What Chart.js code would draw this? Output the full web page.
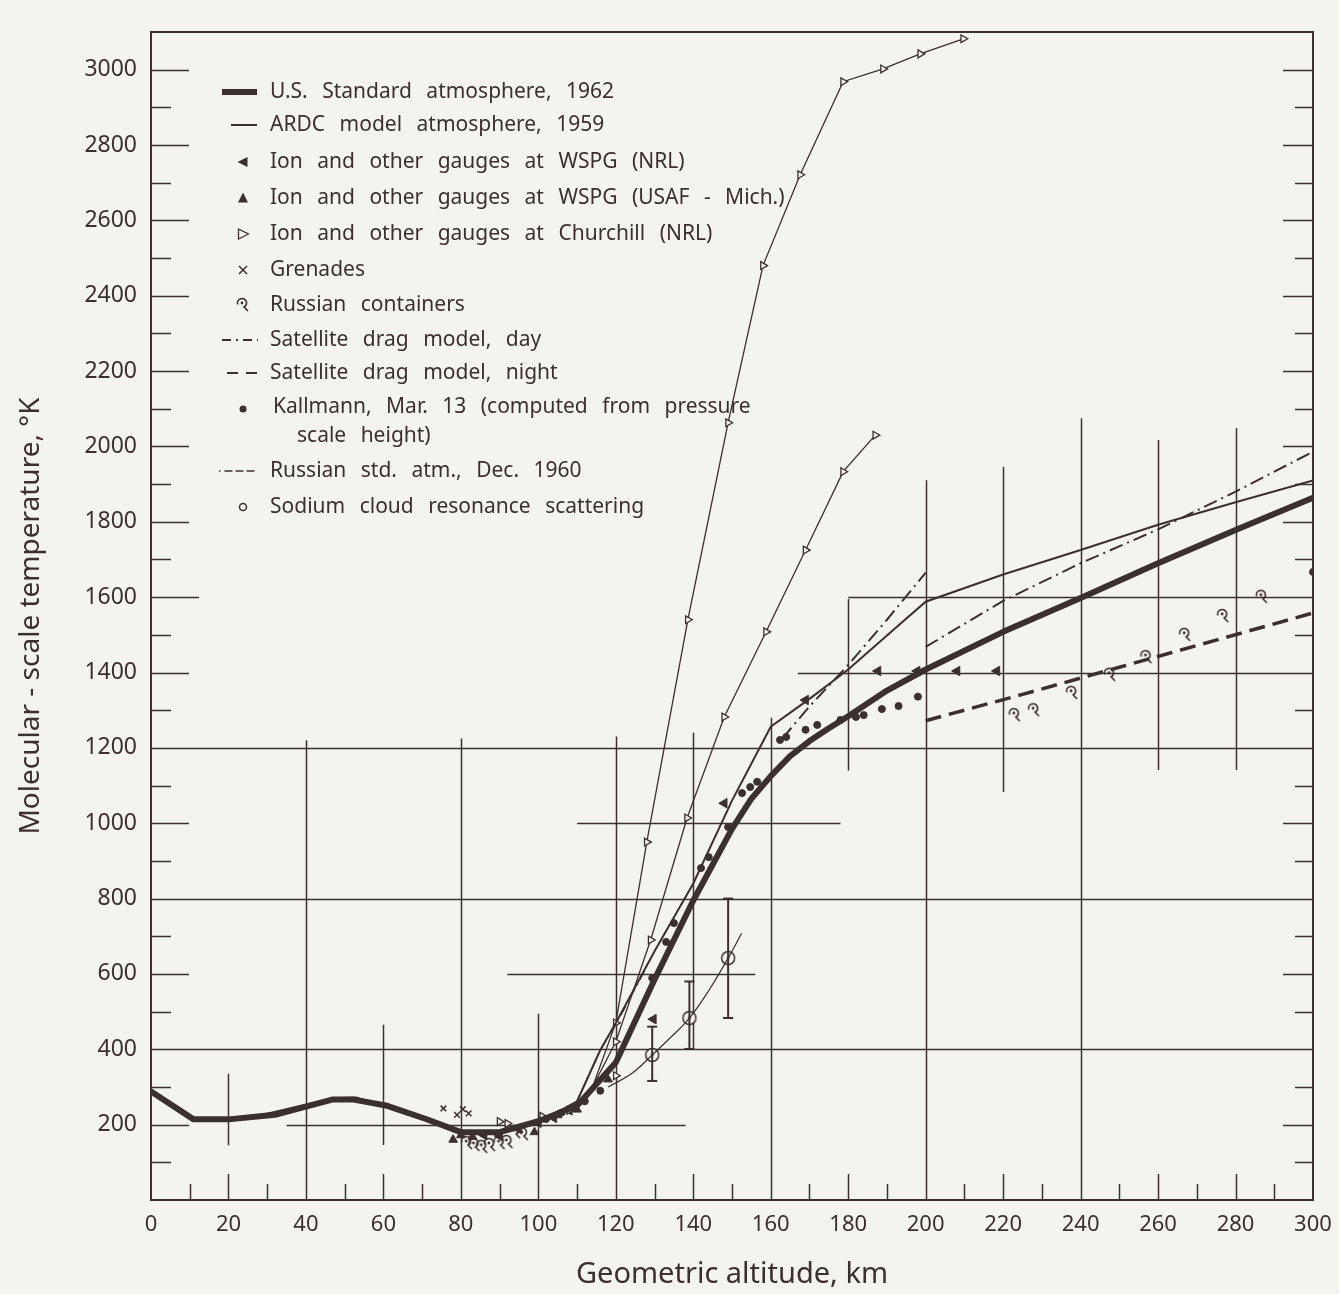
<!DOCTYPE html>
<html>
<head>
<meta charset="utf-8">
<script src="https://cdn.jsdelivr.net/npm/chart.js@4.4.1/dist/chart.umd.min.js"></script>
<style>
  html, body { margin: 0; padding: 0; background: #f4f4ef; }
  #wrap { width: 1339px; height: 1294px; }
</style>
</head>
<body>
<div id="wrap"><canvas id="chart" width="1339" height="1294"></canvas></div>
<script>
const BG = "#f4f4ef";
const INK = "#3a302e";
const FONT = "'Noto Sans', 'DejaVu Sans', sans-serif";

// [altitude km, molecular-scale temperature K]
const usStd1962 = [[0,288],[11,214],[20,214],[32,226],[47,267],[52,267],[61,250],[71,215],[80,180],[90,180],[100,209],[110,250],[120,365],[130,585],[140,795],[150,985],[155,1065],[160,1125],[165,1178],[170,1218],[175,1252],[180,1284],[190,1352],[200,1408],[220,1508],[240,1598],[260,1690],[280,1778],[300,1864]];
const ardc1959 = [[0,288],[11,217],[25,217],[47,270],[53,272],[75,198],[82,176],[90,176],[100,206],[110,262],[116,398],[120,470],[130,660],[140,840],[150,1060],[160,1256],[170,1330],[180,1408],[190,1498],[200,1588],[220,1660],[240,1725],[260,1792],[280,1852],[300,1910]];
const satDayLow = [[163,1225],[170,1310],[180,1420],[190,1540],[200,1665]];
const satDayHigh = [[200,1468],[220,1590],[240,1690],[260,1780],[280,1880],[300,1986]];
const satNight = [[200,1272],[225,1342],[250,1414],[275,1486],[300,1558]];
const russianStd1960 = [[105,228],[110,262],[116,398],[122,504],[128,620]];
const churchillA = [[114,300],[120,470],[128,950],[138.6,1540],[149,2063],[158,2480],[167.6,2721],[178.7,2968],[189,3002],[198.6,3042],[209.7,3082]];
const churchillB = [[114,300],[120,420],[129,690],[138.4,1014],[148,1282],[158.8,1508],[169,1725],[178.7,1933],[187,2030]];
const churchillLow = [[90,208],[92,203],[101,222],[108,238],[120,330]];
const wspgNrl = [[86,172],[90,170],[95,188],[100,205],[104,218],[108,238],[129.7,480],[148,1053],[169,1327],[187.7,1404],[197.8,1404],[208.1,1404],[218.4,1404]];
const wspgUsaf = [[78,160],[80,172],[83,168],[99,180],[105,225],[110,240],[118,320]];
const grenades = [[75.5,243],[80.5,241],[79,226],[82,230]];
const russianContainers = [[81.6,151],[83.5,146],[85.5,141],[87.5,146],[90,151],[92,154],[94,180],[96,175],[223,1287],[228,1300],[237.8,1346],[247.6,1394],[257,1441],[267,1500],[276.8,1550],[286.8,1601]];
const kallmann = [[102,215],[106,232],[112,262],[116,290],[129.4,589],[133,685],[135,735],[142,881],[144,910],[149,990],[152.6,1080],[154.7,1096],[156.5,1110],[162.4,1221],[164,1229],[169,1248],[172,1261],[178,1274],[182,1282],[184,1287],[188.7,1303],[193,1311],[198,1336],[300,1667]];
const sodium = [[129.4,385],[139,483],[149,642]];
const sodiumCurve = [[118,300],[124,335],[129.4,385],[134,430],[139,483],[144,556],[149,642],[152.5,708]];
const sodiumRange = [[129.4,316,460],[139,401,580],[149,483,800]];

// partial grid: [K, fromKm, toKm] and [km, fromK, toK]
const hGrid = [[200,35,138],[400,0,300],[600,92,156],[800,0,300],[1000,110,178],[1200,0,300],[1400,167,300],[1600,180,300]];
const vGrid = [[20,145,335],[40,0,1220],[60,146,465],[80,0,1225],[100,0,494],[120,0,1230],[140,400,1240],[160,0,1280],[180,1140,1595],[200,0,1910],[220,1083,1946],[240,0,2075],[260,1141,2017],[280,1141,2049]];

const legendLabels = [
  "U.S. Standard atmosphere, 1962",
  "ARDC model atmosphere, 1959",
  "Ion and other gauges at WSPG (NRL)",
  "Ion and other gauges at WSPG (USAF - Mich.)",
  "Ion and other gauges at Churchill (NRL)",
  "Grenades",
  "Russian containers",
  "Satellite drag model, day",
  "Satellite drag model, night",
  "Kallmann, Mar. 13 (computed from pressure",
  "Russian std. atm., Dec. 1960",
  "Sodium cloud resonance scattering",
];

const pts = (a) => a.map((p) => ({ x: p[0], y: p[1] }));

function hookSymbol() {
  const c = document.createElement("canvas");
  c.width = 18; c.height = 18;
  const g = c.getContext("2d");
  g.strokeStyle = INK; g.fillStyle = INK; g.lineWidth = 1.6;
  g.beginPath();
  g.arc(8, 7, 4.5, Math.PI * 0.9, Math.PI * 2.35);
  g.lineTo(14, 15);
  g.stroke();
  g.beginPath(); g.arc(8, 7, 1.4, 0, Math.PI * 2); g.fill();
  return c;
}
function ringSymbol() {
  const c = document.createElement("canvas");
  c.width = 18; c.height = 18;
  const g = c.getContext("2d");
  g.strokeStyle = INK; g.fillStyle = BG; g.lineWidth = 1.5;
  g.beginPath(); g.arc(9, 9, 6.5, 0, Math.PI * 2); g.fill(); g.stroke();
  g.fillStyle = INK;
  g.beginPath(); g.arc(9, 9, 1.4, 0, Math.PI * 2); g.fill();
  return c;
}
const HOOK = hookSymbol();
const RING = ringSymbol();

const datasets = [
  { label: "usStd", data: pts(usStd1962), showLine: true, borderColor: INK, borderWidth: 6, pointRadius: 0, borderCapStyle: "round", borderJoinStyle: "round" },
  { label: "ardc", data: pts(ardc1959), showLine: true, borderColor: INK, borderWidth: 2, pointRadius: 0 },
  { label: "satDay1", data: pts(satDayLow), showLine: true, borderColor: INK, borderWidth: 2, borderDash: [14, 5, 2, 5], pointRadius: 0 },
  { label: "satDay2", data: pts(satDayHigh), showLine: true, borderColor: INK, borderWidth: 2, borderDash: [14, 5, 2, 5], pointRadius: 0 },
  { label: "satNight", data: pts(satNight), showLine: true, borderColor: INK, borderWidth: 3.5, borderDash: [16, 8], pointRadius: 0 },
  { label: "russianStd", data: pts(russianStd1960), showLine: true, borderColor: INK, borderWidth: 1.5, borderDash: [10, 4, 2, 4], pointRadius: 0 },
  { label: "churchillA", data: pts(churchillA), showLine: true, borderColor: INK, borderWidth: 1.3, pointStyle: "triangle", rotation: 90, pointRadius: (c) => (c.dataIndex === 0 ? 0 : 4.5), pointBackgroundColor: BG, pointBorderColor: INK, pointBorderWidth: 1.3 },
  { label: "churchillB", data: pts(churchillB), showLine: true, borderColor: INK, borderWidth: 1.3, pointStyle: "triangle", rotation: 90, pointRadius: (c) => (c.dataIndex === 0 ? 0 : 4.5), pointBackgroundColor: BG, pointBorderColor: INK, pointBorderWidth: 1.3 },
  { label: "churchillLow", data: pts(churchillLow), showLine: false, pointStyle: "triangle", rotation: 90, pointRadius: 4.5, pointBackgroundColor: BG, pointBorderColor: INK, pointBorderWidth: 1.3 },
  { label: "sodiumCurve", data: pts(sodiumCurve), showLine: true, borderColor: INK, borderWidth: 1.2, pointRadius: 0, tension: 0.4 },
  ...sodiumRange.map((r) => ({ label: "sodiumRange", data: [{ x: r[0], y: r[1] }, { x: r[0], y: r[2] }], showLine: true, borderColor: INK, borderWidth: 2, pointStyle: "line", pointRadius: 5, pointBorderColor: INK, pointBorderWidth: 2 })),
  { label: "sodium", data: pts(sodium), showLine: false, pointStyle: RING, pointRadius: 7 },
  { label: "wspgNrl", data: pts(wspgNrl), showLine: false, pointStyle: "triangle", rotation: -90, pointRadius: 5.5, pointBackgroundColor: INK, pointBorderColor: INK, pointBorderWidth: 1 },
  { label: "wspgUsaf", data: pts(wspgUsaf), showLine: false, pointStyle: "triangle", pointRadius: 5, pointBackgroundColor: INK, pointBorderColor: INK, pointBorderWidth: 1 },
  { label: "grenades", data: pts(grenades), showLine: false, pointStyle: "crossRot", pointRadius: 4, pointBorderColor: INK, pointBorderWidth: 1.5 },
  { label: "russianContainers", data: pts(russianContainers), showLine: false, pointStyle: HOOK, pointRadius: 8 },
  { label: "kallmann", data: pts(kallmann), showLine: false, pointStyle: "circle", pointRadius: 3.5, pointBackgroundColor: INK, pointBorderColor: INK, pointBorderWidth: 1 },
];

const background = {
  id: "background",
  beforeDraw(chart) {
    const ctx = chart.ctx;
    ctx.save();
    ctx.fillStyle = BG;
    ctx.fillRect(0, 0, chart.width, chart.height);
    ctx.restore();
  },
};

const frame = {
  id: "frame",
  beforeDatasetsDraw(chart) {
    const { ctx, chartArea: a, scales: { x, y } } = chart;
    ctx.save();
    ctx.strokeStyle = INK;
    ctx.lineWidth = 1.5;
    ctx.beginPath();
    hGrid.forEach(([t, k0, k1]) => {
      const py = Math.round(y.getPixelForValue(t)) + 0.5;
      ctx.moveTo(x.getPixelForValue(k0), py);
      ctx.lineTo(x.getPixelForValue(k1), py);
    });
    vGrid.forEach(([k, t0, t1]) => {
      const px = Math.round(x.getPixelForValue(k)) + 0.5;
      ctx.moveTo(px, y.getPixelForValue(t0));
      ctx.lineTo(px, y.getPixelForValue(t1));
    });
    // inward ticks, left and right
    for (let t = 100; t <= 3000; t += 100) {
      const py = Math.round(y.getPixelForValue(t)) + 0.5;
      const major = t % 200 === 0;
      ctx.moveTo(a.left, py);
      ctx.lineTo(a.left + (t === 1600 ? 48 : major ? 38 : 20), py);
      ctx.moveTo(a.right, py);
      ctx.lineTo(a.right - (major ? 30 : 18), py);
    }
    // bottom ticks
    for (let k = 10; k < 300; k += 10) {
      const px = Math.round(x.getPixelForValue(k)) + 0.5;
      ctx.moveTo(px, a.bottom);
      ctx.lineTo(px, a.bottom - (k % 20 === 0 ? 26 : 16));
    }
    ctx.stroke();
    // frame
    ctx.lineWidth = 2;
    ctx.strokeRect(a.left, a.top, a.right - a.left, a.bottom - a.top);
    ctx.restore();
  },
};

const legendBox = {
  id: "legendBox",
  afterDraw(chart) {
    const ctx = chart.ctx;
    const rowY = [92, 125, 162, 198, 234, 270, 305, 340, 373, 407, 471, 507];
    const sx = 243, tx = 270;
    ctx.save();
    ctx.fillStyle = INK;
    ctx.strokeStyle = INK;
    ctx.font = "21px " + FONT;
    ctx.textBaseline = "middle";
    if ("wordSpacing" in ctx) ctx.wordSpacing = "9px";
    const line = (x0, x1, yy, w, dash) => {
      ctx.save();
      ctx.lineWidth = w;
      ctx.setLineDash(dash || []);
      ctx.beginPath(); ctx.moveTo(x0, yy); ctx.lineTo(x1, yy); ctx.stroke();
      ctx.restore();
    };
    const tri = (cx, cy, rot, fill) => {
      ctx.save();
      ctx.translate(cx, cy); ctx.rotate(rot);
      ctx.beginPath(); ctx.moveTo(0, -5.5); ctx.lineTo(5, 4.5); ctx.lineTo(-5, 4.5); ctx.closePath();
      ctx.lineWidth = 1.3;
      if (fill) { ctx.fill(); } else { ctx.fillStyle = BG; ctx.fill(); ctx.stroke(); }
      ctx.restore();
    };
    rowY.forEach((yy, i) => {
      switch (i) {
        case 0: line(222, 257, yy, 6); break;
        case 1: line(231, 257, yy, 2); break;
        case 2: tri(sx, yy, -Math.PI / 2, true); break;
        case 3: tri(sx, yy, 0, true); break;
        case 4: tri(sx, yy, Math.PI / 2, false); break;
        case 5:
          ctx.save(); ctx.lineWidth = 1.5; ctx.beginPath();
          ctx.moveTo(sx - 4, yy - 4); ctx.lineTo(sx + 4, yy + 4);
          ctx.moveTo(sx + 4, yy - 4); ctx.lineTo(sx - 4, yy + 4); ctx.stroke(); ctx.restore();
          break;
        case 6: ctx.drawImage(HOOK, sx - 9, yy - 9); break;
        case 7: line(222, 258, yy, 2, [9, 5, 2, 5]); break;
        case 8: line(227, 258, yy, 2, [11, 8]); break;
        case 9: ctx.beginPath(); ctx.arc(sx, yy + 2, 3.5, 0, Math.PI * 2); ctx.fill(); break;
        case 10: line(219, 258, yy, 1.5, [1.5, 4, 8, 3, 8, 3, 8, 4]); break;
        case 11:
          ctx.save(); ctx.lineWidth = 1.5; ctx.beginPath(); ctx.arc(sx, yy, 3.5, 0, Math.PI * 2); ctx.stroke(); ctx.restore();
          break;
      }
      ctx.fillText(legendLabels[i], i === 9 ? tx + 3 : tx, yy);
    });
    ctx.fillText("scale height)", 297, 436);
    ctx.restore();
  },
};

new Chart(document.getElementById("chart"), {
  type: "scatter",
  data: { datasets },
  options: {
    responsive: false,
    animation: false,
    layout: { padding: { top: 32, right: 26, left: 0, bottom: 0 } },
    plugins: { legend: { display: false }, tooltip: { enabled: false } },
    scales: {
      x: {
        type: "linear",
        min: 0,
        max: 300,
        afterFit: (s) => { s.height = 94; s.paddingLeft = 0; s.paddingRight = 0; },
        grid: { display: false, drawTicks: false },
        border: { display: false },
        ticks: { stepSize: 20, padding: 12, color: INK, font: { family: FONT, size: 22 }, callback: (v) => String(v) },
        title: { display: true, text: "Geometric altitude, km", color: INK, font: { family: FONT, size: 29 }, padding: { top: 0, bottom: 2 } },
      },
      y: {
        type: "linear",
        min: 0,
        max: 3100,
        afterFit: (s) => { s.width = 151; },
        grid: { display: false, drawTicks: false },
        border: { display: false },
        ticks: { stepSize: 200, padding: 14, color: INK, font: { family: FONT, size: 23 }, callback: (v) => (v === 0 || v % 200 !== 0 ? "" : String(v)) },
        title: { display: true, text: "Molecular - scale temperature, °K", color: INK, font: { family: FONT, size: 28 }, padding: { top: 14, bottom: 0 } },
      },
    },
  },
  plugins: [background, frame, legendBox],
});
</script>
</body>
</html>
